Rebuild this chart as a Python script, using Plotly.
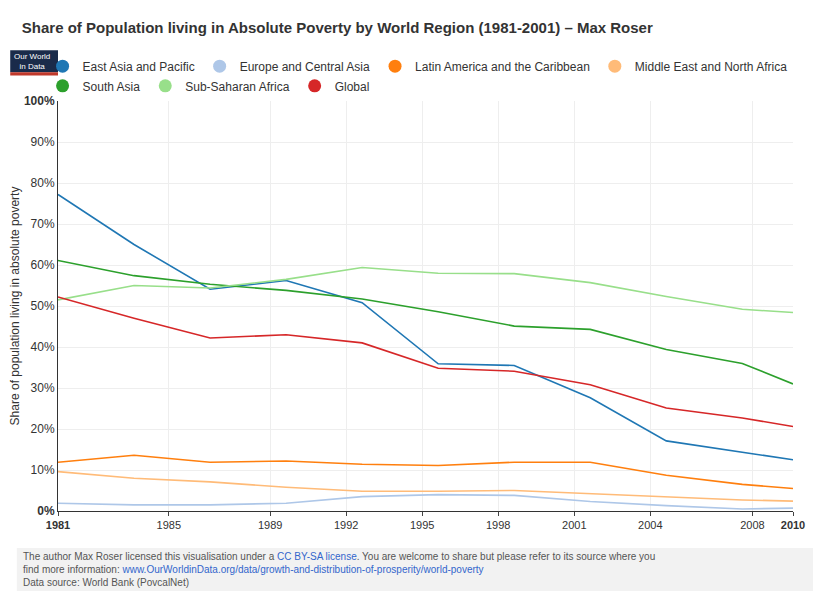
import plotly.graph_objects as go

years = [1981, 1984, 1987, 1990, 1993, 1996, 1999, 2002, 2005, 2008, 2010]
east_asia = [77.2, 65.0, 54.1, 56.2, 50.8, 35.9, 35.5, 27.6, 17.1, 14.4, 12.5]
europe = [1.9, 1.5, 1.5, 1.9, 3.5, 4.0, 3.8, 2.3, 1.3, 0.5, 0.7]
latin = [11.9, 13.6, 11.9, 12.2, 11.4, 11.1, 11.9, 11.9, 8.7, 6.5, 5.5]
mena = [9.6, 8.0, 7.1, 5.8, 4.8, 4.8, 5.0, 4.2, 3.5, 2.7, 2.4]
south_asia = [61.1, 57.4, 55.3, 53.8, 51.7, 48.6, 45.1, 44.3, 39.4, 36.0, 31.0]
ssa = [51.5, 55.0, 54.4, 56.5, 59.4, 58.0, 57.9, 55.7, 52.3, 49.2, 48.4]
global_ = [52.2, 47.0, 42.2, 43.0, 41.0, 34.8, 34.1, 30.8, 25.1, 22.7, 20.6]
tick_years = [1981, 1985, 1989, 1992, 1995, 1998, 2001, 2004, 2008, 2010]
tick_pos = [1981, 1985.37, 1989.37, 1992.37, 1995.37, 1998.37, 2001.37, 2004.37, 2008.4, 2010]

series = [
    ("East Asia and Pacific", east_asia, "#1f77b4", "legend"),
    ("Europe and Central Asia", europe, "#aec7e8", "legend"),
    ("Latin America and the Caribbean", latin, "#ff7f0e", "legend"),
    ("Middle East and North Africa", mena, "#ffbb78", "legend"),
    ("South Asia", south_asia, "#2ca02c", "legend2"),
    ("Sub-Saharan Africa", ssa, "#98df8a", "legend2"),
    ("Global", global_, "#d62728", "legend2"),
]

fig = go.Figure()
for name, vals, col, lg in series:
    fig.add_trace(go.Scatter(x=years, y=vals, name=name, mode="lines", showlegend=False,
                             line=dict(color=col, width=1.6)))
for name, vals, col, lg in series:
    fig.add_trace(go.Scatter(x=[None], y=[None], name=name, mode="markers", legend=lg,
                             marker=dict(color=col, size=13)))

leg = dict(orientation="h", x=-0.021, xanchor="left", yanchor="middle",
           font=dict(size=12), itemwidth=30, traceorder="normal",
           bgcolor="rgba(0,0,0,0)", tracegroupgap=0)
ticktext = [f"<b>{t}</b>" if t in (1981, 2010) else str(t) for t in tick_years]
fig.update_layout(
    width=813, height=586, paper_bgcolor="white", plot_bgcolor="white",
    font=dict(family="Helvetica, Arial, Liberation Sans", size=12, color="#333"),
    margin=dict(l=50, r=28, t=93, b=83, autoexpand=False),
    title=dict(text="<b>Share of Population living in Absolute Poverty by World Region (1981-2001) – Max Roser</b>",
               x=0.017, xanchor="left", y=0.975, yanchor="top", font=dict(size=15, color="#333")),
    legend=dict(leg, y=1.085),
    legend2=dict(leg, y=1.037),
    xaxis=dict(range=[1981, 2010], tickvals=tick_pos, ticktext=ticktext,
               showgrid=True, gridcolor="#eee", showline=True, linecolor="#333",
               ticks="outside", ticklen=4, tickfont=dict(size=11), zeroline=False),
    yaxis=dict(range=[0, 100], tickvals=list(range(0, 101, 10)),
               ticktext=[f"<b>{v}%</b>" if v in (0, 100) else f"{v}%" for v in range(0, 101, 10)],
               showgrid=True, gridcolor="#eee", showline=True, linecolor="#333",
               title=dict(text="Share of population living in absolute poverty", font=dict(size=12), standoff=6),
               zeroline=False, tickfont=dict(size=12)),
)
# logo
fig.add_shape(type="rect", xref="paper", yref="paper", x0=-0.065, x1=0.0, y0=1.07, y1=1.124,
              fillcolor="#1a2b4a", line=dict(width=0), layer="below")
fig.add_shape(type="rect", xref="paper", yref="paper", x0=-0.065, x1=0.0, y0=1.062, y1=1.07,
              fillcolor="#c0392b", line=dict(width=0), layer="below")
fig.add_annotation(xref="paper", yref="paper", x=-0.063, xanchor="left", y=1.097,
                   text="Our World<br>in Data", showarrow=False,
                   font=dict(size=8, color="white"), align="center", yanchor="middle")
# footer
fig.add_shape(type="rect", xref="paper", yref="paper", x0=-0.056, x1=1.035, y0=-0.09, y1=-0.195,
              fillcolor="#f2f2f2", line=dict(width=0), layer="below")
fig.add_annotation(xref="paper", yref="paper", x=-0.05, y=-0.093, xanchor="left", yanchor="top", align="left",
    showarrow=False, font=dict(size=10, color="#555"),
    text="The author Max Roser licensed this visualisation under a <span style='color:#3366cc'>CC BY-SA license</span>. You are welcome to share but please refer to its source where you<br>find more information: <span style='color:#3366cc'>www.OurWorldinData.org/data/growth-and-distribution-of-prosperity/world-poverty</span><br>Data source: World Bank (PovcalNet)")
fig.write_html("out.html")
